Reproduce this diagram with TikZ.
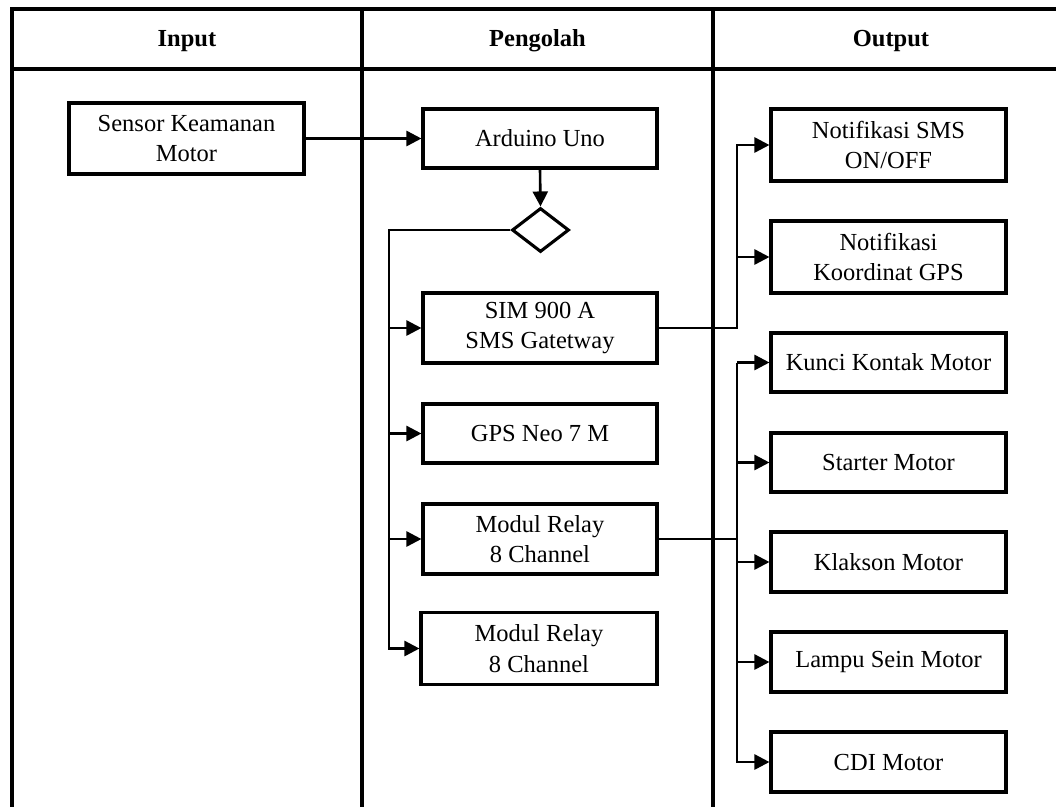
\documentclass[tikz,border=0pt]{standalone}
\usepackage{fontspec}
\setmainfont{Liberation Serif}
\usetikzlibrary{arrows.meta,shapes.geometric}
\begin{document}
\begin{tikzpicture}[x=1pt,y=-1pt,
  box/.style={draw,line width=3.1pt,minimum width=235pt,minimum height=60pt,align=center,inner sep=0pt,font=\fontsize{24.5}{30.5}\selectfont},
  conn/.style={line width=2.6pt},
  arr/.style={conn,-{Triangle[length=15pt,width=15pt]}},
  frame/.style={line width=3.5pt,line join=miter},
  head/.style={font=\fontsize{24.5}{30}\selectfont\bfseries}]
\useasboundingbox (0,0) rectangle (1056,807);
% frame
\draw[frame] (1056,9) -- (12,9) -- (12,807);
\draw[frame] (12,69) -- (1056,69);
\draw[frame] (362,9) -- (362,807);
\draw[frame] (713,9) -- (713,807);
% headers
\node[head] (hin) at (187,41) {Input};
\node[head] (hpr) at (537.5,41) {Pengolah};
\node[head] (hout) at (891,41) {Output};
% input
\node[box,minimum height=71pt] (sensor) at (186.5,138.5) {Sensor Keamanan\\Motor};
% processing
\node[box,minimum width=234pt,minimum height=59pt] (arduino) at (540,138.5) {Arduino Uno};
\node[diamond,draw,line width=3.1pt,minimum width=57pt,minimum height=44pt,inner sep=0pt] (dec) at (540.5,230) {};
\node[box,minimum width=234pt,minimum height=70pt] (sim) at (540,328) {SIM 900 A\\SMS Gatetway};
\node[box,minimum width=234pt,minimum height=59pt] (gps) at (540,433.5) {GPS Neo 7 M};
\node[box,minimum width=234pt,minimum height=70pt] (relay1) at (540,539) {Modul Relay\\8 Channel};
\node[box,minimum width=236pt,minimum height=72pt] (relay2) at (539,648.5) {Modul Relay\\8 Channel};
% output
\node[box,minimum height=72pt] (nsms) at (888.5,145) {Notifikasi SMS\\ON/OFF};
\node[box,minimum height=72pt] (ngps) at (888.5,257) {Notifikasi\\Koordinat GPS};
\node[box,minimum height=59pt] (kunci) at (888.5,362.5) {Kunci Kontak Motor};
\node[box,minimum height=59pt] (starter) at (888.5,462.5) {Starter Motor};
\node[box,minimum height=60pt] (klakson) at (888.5,562) {Klakson Motor};
\node[box,minimum height=60pt] (lampu) at (888.5,662) {Lampu Sein Motor};
\node[box,minimum height=60pt] (cdi) at (888.5,762) {CDI Motor};
% connectors
\draw[arr] (sensor.east) -- (arduino.west);
\draw[arr] (arduino.south) -- (dec.north);
\coordinate (bl) at (389,230);
\draw[arr] (dec.west) -- (bl) |- (relay2.west);
\draw[arr] (bl |- sim.west) -- (sim.west);
\draw[arr] (bl |- gps.west) -- (gps.west);
\draw[arr] (bl |- relay1.west) -- (relay1.west);
\coordinate (o1) at (737,145);
\draw[arr] (sim.east) -| (o1) -- (nsms.west);
\draw[arr] (o1 |- ngps.west) -- (ngps.west);
\coordinate (o2) at (737,362.5);
\draw[conn] (relay1.east) -- (relay1.east -| o2);
\draw[arr] (o2) -- (kunci.west);
\draw[arr] (o2) |- (cdi.west);
\draw[arr] (o2 |- starter.west) -- (starter.west);
\draw[arr] (o2 |- klakson.west) -- (klakson.west);
\draw[arr] (o2 |- lampu.west) -- (lampu.west);
\end{tikzpicture}
\end{document}
